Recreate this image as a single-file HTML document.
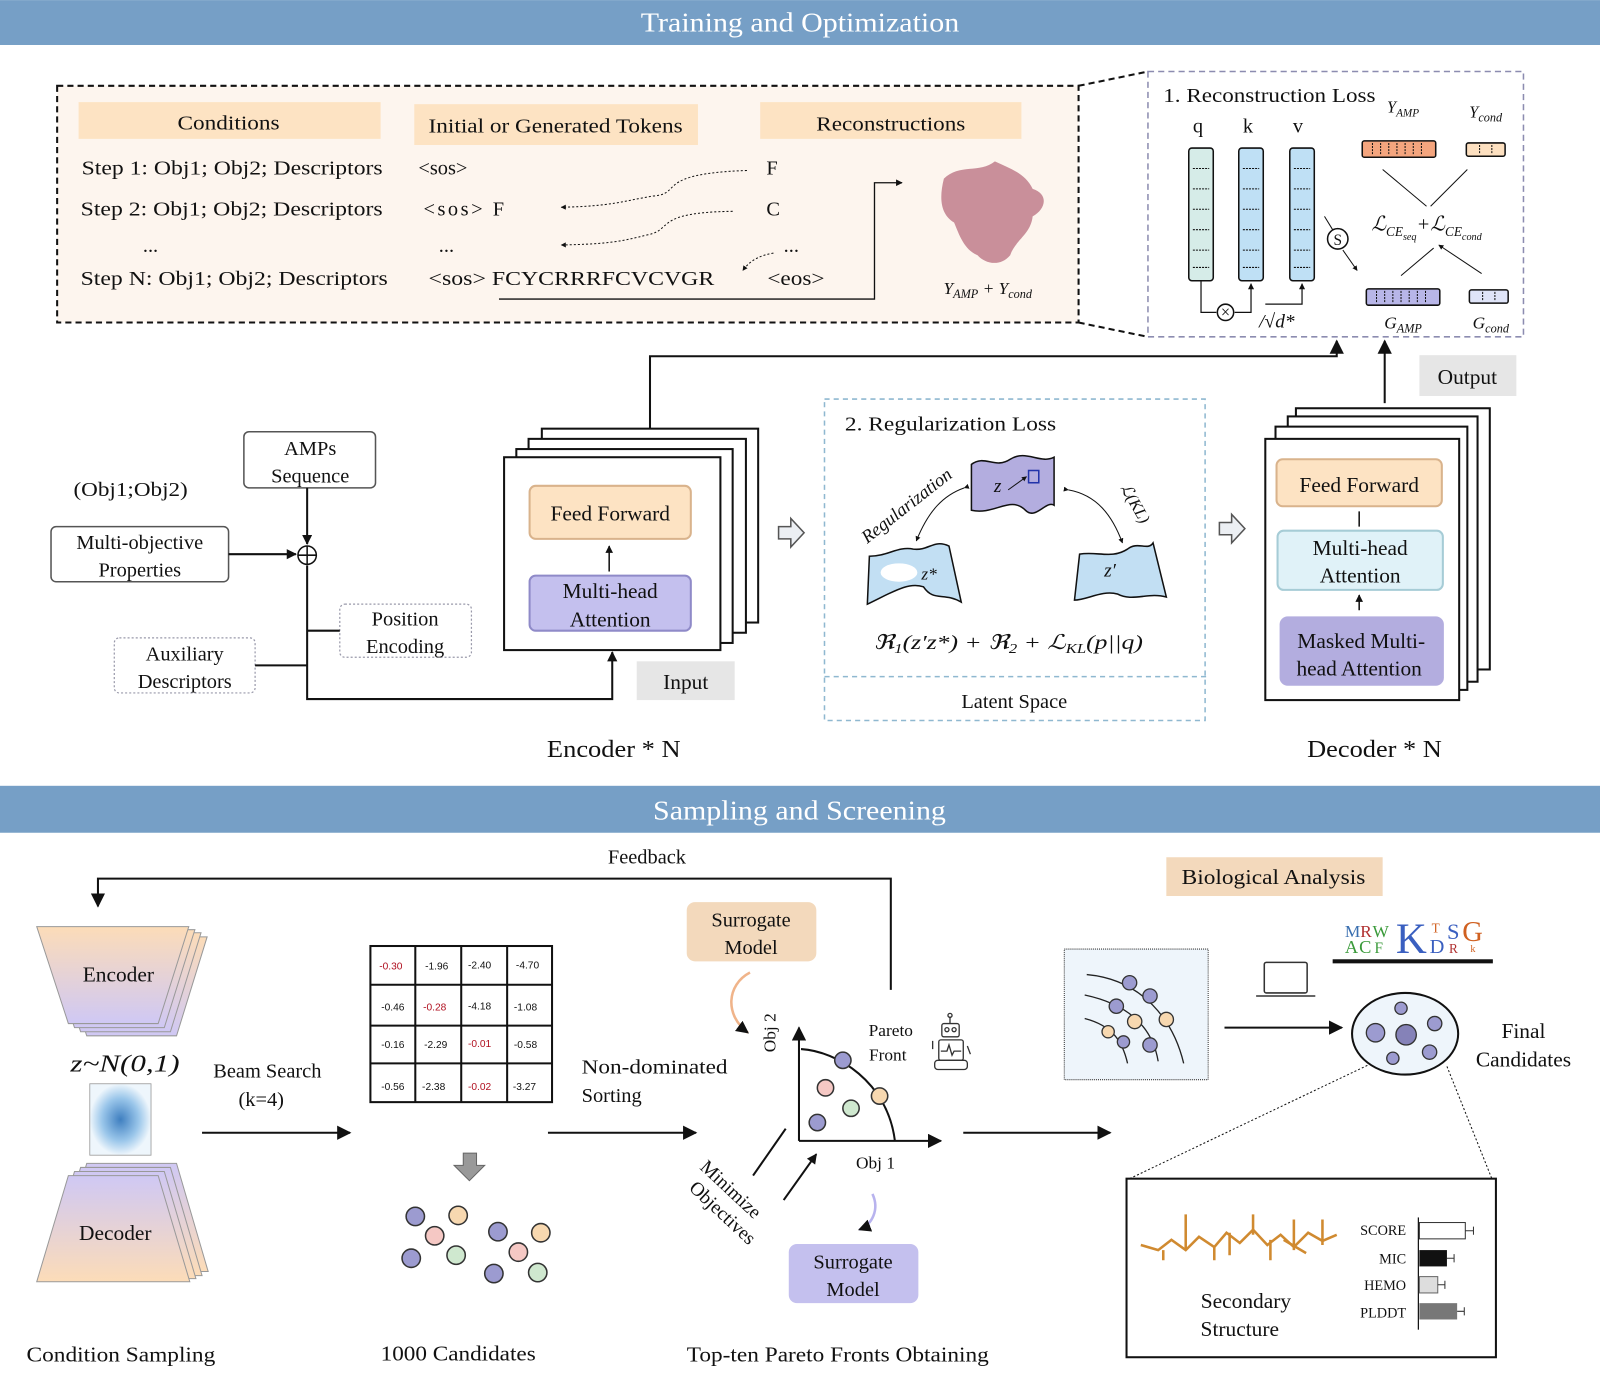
<!DOCTYPE html>
<html><head><meta charset="utf-8"><style>
html,body{margin:0;padding:0;background:#fff}
svg{display:block}
text{font-family:"Liberation Serif",serif;fill:#111}
</style></head><body>
<svg width="1600" height="1391" viewBox="0 0 1568 1363" xmlns="http://www.w3.org/2000/svg">
<defs>
<marker id="a" viewBox="0 0 10 10" refX="9" refY="5" markerWidth="7" markerHeight="7" orient="auto"><path d="M0,0L10,5L0,10z" fill="#111"/></marker>
<marker id="as" viewBox="0 0 10 10" refX="9" refY="5" markerWidth="5" markerHeight="5" orient="auto"><path d="M0,0L10,5L0,10z" fill="#111"/></marker>
<linearGradient id="enc" x1="0" y1="0" x2="0" y2="1"><stop offset="0" stop-color="#fcdcb8"/><stop offset="1" stop-color="#cfc8f4"/></linearGradient>
<linearGradient id="dec" x1="0" y1="0" x2="0" y2="1"><stop offset="0" stop-color="#cfc8f4"/><stop offset="1" stop-color="#fcdcb8"/></linearGradient>
<radialGradient id="gs" cx="0.5" cy="0.5" r="0.5"><stop offset="0" stop-color="#3f7fc0"/><stop offset="0.6" stop-color="#9ac6ea"/><stop offset="1" stop-color="#eef6fc"/></radialGradient>
</defs>

<rect x="0" y="0" width="1568" height="44" fill="#769fc6"/>
<text x="628" y="31" font-size="27" textLength="312" lengthAdjust="spacingAndGlyphs" style="fill:#fff">Training and Optimization</text>
<rect x="0" y="770" width="1568" height="46" fill="#769fc6"/>
<text x="640" y="803" font-size="27" textLength="287" lengthAdjust="spacingAndGlyphs" style="fill:#fff">Sampling and Screening</text>

<rect x="56" y="84" width="1001" height="232" fill="#fdf5ee" stroke="#111" stroke-width="2" stroke-dasharray="6,4"/>
<rect x="77" y="100" width="296" height="36" fill="#fde3c3"/>
<rect x="406" y="102" width="278" height="40" fill="#fde3c3"/>
<rect x="745" y="100" width="256" height="36" fill="#fde3c3"/>
<g font-size="20">
<text x="174" y="127" textLength="100" lengthAdjust="spacingAndGlyphs">Conditions</text>
<text x="420" y="130" textLength="249" lengthAdjust="spacingAndGlyphs">Initial or Generated Tokens</text>
<text x="800" y="128" textLength="146" lengthAdjust="spacingAndGlyphs">Reconstructions</text>
<text x="80" y="171" textLength="295" lengthAdjust="spacingAndGlyphs">Step 1:  Obj1; Obj2; Descriptors</text>
<text x="79" y="211" textLength="296" lengthAdjust="spacingAndGlyphs">Step 2:  Obj1; Obj2; Descriptors</text>
<text x="140" y="247">...</text>
<text x="79" y="279" textLength="301" lengthAdjust="spacingAndGlyphs">Step N:  Obj1; Obj2; Descriptors</text>
<text x="410" y="171">&lt;sos&gt;</text>
<text x="415" y="211" textLength="79" lengthAdjust="spacing">&lt;sos&gt;  F</text>
<text x="430" y="247">...</text>
<text x="420" y="279" textLength="280" lengthAdjust="spacingAndGlyphs">&lt;sos&gt;  FCYCRRRFCVCVGR</text>
<text x="751" y="171">F</text>
<text x="751" y="211">C</text>
<text x="768" y="247">...</text>
<text x="752" y="279" textLength="56" lengthAdjust="spacingAndGlyphs">&lt;eos&gt;</text>
</g>
<g fill="none" stroke="#111" stroke-width="1" stroke-dasharray="2,2">
<path d="M732,167 C640,170 670,190 640,192 C610,197 600,202 550,203" marker-end="url(#as)"/>
<path d="M718,207 C640,208 660,225 635,230 C610,236 600,239 550,240" marker-end="url(#as)"/>
<path d="M758,248 C745,250 735,255 728,265" marker-end="url(#as)"/>
</g>
<path d="M489,293 H857 V179 H884" fill="none" stroke="#111" stroke-width="1.3" marker-end="url(#as)"/>
<g fill="#c98f9a">
<path d="M925,175 C940,160 960,170 975,158 C990,165 1005,170 1012,185 C1028,190 1025,205 1012,212 C1010,230 995,235 990,250 C980,262 965,258 958,250 C945,245 940,230 935,218 C922,210 920,195 925,175 Z"/>
</g>
<text x="968" y="288" font-size="17" text-anchor="middle" font-style="italic">Y<tspan font-size="12" dy="4">AMP</tspan><tspan dy="-4"> + Y</tspan><tspan font-size="12" dy="4">cond</tspan></text>

<path d="M1057,84 L1125,70 M1057,316 L1125,330" stroke="#111" stroke-width="2" stroke-dasharray="6,4"/>
<rect x="1125" y="70" width="368" height="260" fill="#fff" stroke="#8c8cb0" stroke-width="1.5" stroke-dasharray="6,4"/>
<text x="1140" y="100" font-size="20" textLength="208" lengthAdjust="spacingAndGlyphs">1. Reconstruction Loss</text>
<g font-size="20" text-anchor="middle"><text x="1174" y="130">q</text><text x="1223" y="130">k</text><text x="1272" y="130">v</text></g>
<rect x="1165" y="145" width="24" height="130" rx="3" fill="#d6ece8" stroke="#111" stroke-width="1.5"/>
<rect x="1214" y="145" width="24" height="130" rx="3" fill="#bfe0f5" stroke="#111" stroke-width="1.5"/>
<rect x="1264" y="145" width="24" height="130" rx="3" fill="#bfe0f5" stroke="#111" stroke-width="1.5"/>
<g stroke="#111" stroke-dasharray="2,1" stroke-width="1">
<path d="M1169,165h16M1169,185h16M1169,205h16M1169,225h16M1169,245h16M1169,262h16"/>
<path d="M1218,165h16M1218,185h16M1218,205h16M1218,225h16M1218,245h16M1218,262h16"/>
<path d="M1268,165h16M1268,185h16M1268,205h16M1268,225h16M1268,245h16M1268,262h16"/>
</g>
<path d="M1177,275 V306 H1192 M1210,306 H1226 V278" fill="none" stroke="#111" stroke-width="1.2" marker-end="url(#as)"/>
<circle cx="1201" cy="306" r="8" fill="#fff" stroke="#111" stroke-width="1.5"/>
<text x="1201" y="311" font-size="16" text-anchor="middle">×</text>
<path d="M1240,298 H1276 V278" fill="none" stroke="#111" stroke-width="1.2" marker-end="url(#as)"/>
<text x="1234" y="321" font-size="19" font-style="italic">/√d*</text>
<circle cx="1311" cy="234" r="10" fill="#fff" stroke="#111" stroke-width="1.5"/>
<text x="1311" y="240" font-size="15" text-anchor="middle">S</text>
<path d="M1298,212 L1306,225 M1316,245 L1330,265" stroke="#111" stroke-width="1" marker-end="url(#as)"/>
<text x="1375" y="110" font-size="16" font-style="italic" text-anchor="middle">Y<tspan font-size="11" dy="4">AMP</tspan></text>
<text x="1456" y="115" font-size="16" font-style="italic" text-anchor="middle">Y<tspan font-size="12" dy="4">cond</tspan></text>
<rect x="1335" y="138" width="72" height="16" rx="2" fill="#f4a57e" stroke="#111" stroke-width="1.5"/>
<rect x="1437" y="140" width="38" height="13" rx="2" fill="#fde0c0" stroke="#111" stroke-width="1.5"/>
<rect x="1339" y="283" width="72" height="16" rx="2" fill="#b8b6e8" stroke="#111" stroke-width="1.5"/>
<rect x="1440" y="284" width="38" height="13" rx="2" fill="#dfe4f8" stroke="#111" stroke-width="1.5"/>
<g stroke="#111" stroke-width="1" stroke-dasharray="2,1">
<path d="M1345,140v12M1353,140v12M1361,140v12M1369,140v12M1377,140v12M1385,140v12M1393,140v12"/>
<path d="M1349,285v12M1357,285v12M1365,285v12M1373,285v12M1381,285v12M1389,285v12M1397,285v12"/>
<path d="M1450,142v9M1462,142v9M1453,286v9M1465,286v9"/>
</g>
<path d="M1355,166 L1398,202 M1438,166 L1402,202 M1373,270 L1405,243 M1452,268 L1410,240" stroke="#111" stroke-width="1" marker-end="url(#as)"/>
<text x="1398" y="226" font-size="20" font-style="italic" text-anchor="middle">ℒ<tspan font-size="13" dy="5">CE</tspan><tspan font-size="10" dy="4">seq</tspan><tspan dy="-9">+ℒ</tspan><tspan font-size="13" dy="5">CE</tspan><tspan font-size="10" dy="4">cond</tspan></text>
<text x="1375" y="322" font-size="17" font-style="italic" text-anchor="middle">G<tspan font-size="12" dy="4">AMP</tspan></text>
<text x="1461" y="322" font-size="17" font-style="italic" text-anchor="middle">G<tspan font-size="12" dy="4">cond</tspan></text>

<path d="M637,420 V349 H1310 V334" fill="none" stroke="#111" stroke-width="2" marker-end="url(#a)"/>
<path d="M1357,395 V334" fill="none" stroke="#111" stroke-width="2" marker-end="url(#a)"/>
<rect x="1391" y="348" width="95" height="40" fill="#e6e6e6"/>
<text x="1438" y="376" font-size="21" text-anchor="middle">Output</text>

<g fill="#fff" stroke="#111" stroke-width="2">
<rect x="531" y="420" width="212" height="190"/>
<rect x="518" y="430" width="213" height="190"/>
<rect x="506" y="440" width="212" height="190"/>
<rect x="494" y="448" width="212" height="189"/>
</g>
<rect x="519" y="476" width="158" height="52" rx="6" fill="#fde3c3" stroke="#d9b38c" stroke-width="2"/>
<text x="598" y="510" font-size="21" text-anchor="middle">Feed Forward</text>
<rect x="519" y="564" width="158" height="54" rx="6" fill="#c4c0ee" stroke="#8f8ac8" stroke-width="2"/>
<text x="598" y="586" font-size="21" text-anchor="middle">Multi-head</text>
<text x="598" y="614" font-size="21" text-anchor="middle">Attention</text>
<path d="M597,560 V535" stroke="#111" stroke-width="1.5" marker-end="url(#as)"/>
<rect x="624" y="648" width="96" height="38" fill="#e6e6e6"/>
<text x="672" y="675" font-size="21" text-anchor="middle">Input</text>
<text x="536" y="742" font-size="24" textLength="131" lengthAdjust="spacingAndGlyphs">Encoder * N</text>

<rect x="239" y="423" width="129" height="55" rx="5" fill="#fff" stroke="#555" stroke-width="1.5"/>
<text x="304" y="446" font-size="20" text-anchor="middle">AMPs</text>
<text x="304" y="473" font-size="20" text-anchor="middle">Sequence</text>
<text x="72" y="486" font-size="20" textLength="112" lengthAdjust="spacingAndGlyphs">(Obj1;Obj2)</text>
<rect x="50" y="516" width="174" height="54" rx="5" fill="#fff" stroke="#555" stroke-width="1.5"/>
<text x="137" y="538" font-size="20" text-anchor="middle">Multi-objective</text>
<text x="137" y="565" font-size="20" text-anchor="middle">Properties</text>
<rect x="333" y="592" width="129" height="52" rx="5" fill="#fff" stroke="#99a" stroke-width="1.2" stroke-dasharray="2,2"/>
<text x="397" y="613" font-size="20" text-anchor="middle">Position</text>
<text x="397" y="640" font-size="20" text-anchor="middle">Encoding</text>
<rect x="112" y="625" width="138" height="54" rx="5" fill="#fff" stroke="#99a" stroke-width="1.2" stroke-dasharray="2,2"/>
<text x="181" y="647" font-size="20" text-anchor="middle">Auxiliary</text>
<text x="181" y="674" font-size="20" text-anchor="middle">Descriptors</text>
<g fill="none" stroke="#111" stroke-width="2">
<path d="M301,478 V533" marker-end="url(#as)"/>
<path d="M224,543 H290" marker-end="url(#as)"/>
<path d="M301,554 V685 H600 V639" marker-end="url(#as)"/>
<path d="M250,652 H301 M301,618 H333"/>
</g>
<circle cx="301" cy="544" r="9" fill="#fff" stroke="#111" stroke-width="1.5"/>
<path d="M292,544h18M301,535v18" stroke="#111" stroke-width="1.5"/>

<path d="M763,516 h12 v-8 l13,14 l-13,14 v-8 h-12z" fill="#eceff3" stroke="#555" stroke-width="1.5"/>
<path d="M1195,512 h12 v-8 l13,14 l-13,14 v-8 h-12z" fill="#eceff3" stroke="#555" stroke-width="1.5"/>

<rect x="808" y="391" width="373" height="315" fill="#fff" stroke="#8fb8d0" stroke-width="1.5" stroke-dasharray="5,4"/>
<path d="M808,663 H1184" stroke="#8fb8d0" stroke-width="1.5" stroke-dasharray="5,4"/>
<text x="828" y="422" font-size="20" textLength="207" lengthAdjust="spacingAndGlyphs">2. Regularization Loss</text>
<path d="M952,455 C965,445 975,460 990,450 C1005,440 1020,455 1033,448 L1033,495 C1025,490 1015,510 1005,500 C990,485 975,505 952,500 Z" fill="#b3addf" stroke="#111" stroke-width="1.5"/>
<text x="974" y="482" font-size="19" font-style="italic">z</text>
<path d="M988,480 L1006,467" stroke="#111" stroke-width="1" marker-end="url(#as)"/>
<rect x="1008" y="461" width="10" height="12" fill="none" stroke="#2233aa" stroke-width="1.5"/>
<path d="M852,545 C870,545 880,535 895,538 C910,540 915,528 930,535 L942,590 C925,580 915,590 905,575 C890,570 875,580 850,592 Z" fill="#c2dff3" stroke="#111" stroke-width="1.5"/>
<ellipse cx="881" cy="561" rx="18" ry="9" fill="#fff"/>
<text x="903" y="568" font-size="17" font-style="italic">z*</text>
<path d="M1058,543 C1075,540 1090,548 1105,538 C1115,530 1125,540 1130,532 L1143,585 C1125,580 1110,590 1095,582 C1080,578 1065,588 1053,588 Z" fill="#c2dff3" stroke="#111" stroke-width="1.5"/>
<text x="1082" y="565" font-size="19" font-style="italic">z′</text>
<text x="892" y="500" font-size="18" font-style="italic" transform="rotate(-38 892 500)" text-anchor="middle">Regularization</text>
<text x="1108" y="496" font-size="16" font-style="italic" transform="rotate(60 1108 496)" text-anchor="middle">ℒ(KL)</text>
<path d="M945,478 C925,485 910,500 898,530" fill="none" stroke="#111" stroke-width="1" marker-start="url(#as)" marker-end="url(#as)"/>
<path d="M1047,480 C1075,485 1090,505 1100,532" fill="none" stroke="#111" stroke-width="1" marker-start="url(#as)" marker-end="url(#as)"/>
<text x="856" y="636" font-size="20" font-style="italic" textLength="264" lengthAdjust="spacingAndGlyphs">ℜ<tspan font-size="13" dy="4">1</tspan><tspan dy="-4">(z′z*) + ℜ</tspan><tspan font-size="13" dy="4">2</tspan><tspan dy="-4"> + ℒ</tspan><tspan font-size="13" dy="4">KL</tspan><tspan dy="-4">(p||q)</tspan></text>
<text x="994" y="694" font-size="20" text-anchor="middle">Latent Space</text>

<g fill="#fff" stroke="#111" stroke-width="2">
<rect x="1270" y="400" width="190" height="256"/>
<rect x="1262" y="408" width="186" height="260"/>
<rect x="1250" y="418" width="188" height="258"/>
<rect x="1240" y="430" width="190" height="256"/>
</g>
<rect x="1251" y="450" width="162" height="46" rx="6" fill="#fde3c3" stroke="#d9b38c" stroke-width="2"/>
<text x="1332" y="482" font-size="21" text-anchor="middle">Feed Forward</text>
<rect x="1252" y="520" width="162" height="58" rx="6" fill="#e0f2f8" stroke="#a6ccd6" stroke-width="2"/>
<text x="1333" y="544" font-size="21" text-anchor="middle">Multi-head</text>
<text x="1333" y="571" font-size="21" text-anchor="middle">Attention</text>
<rect x="1254" y="604" width="161" height="68" rx="8" fill="#b3addf"/>
<text x="1334" y="635" font-size="21" text-anchor="middle">Masked Multi-</text>
<text x="1332" y="662" font-size="21" text-anchor="middle">head Attention</text>
<path d="M1332,516 V501 M1332,598 V583" stroke="#111" stroke-width="1.5" marker-end="url(#as)"/>
<text x="1281" y="742" font-size="24" textLength="132" lengthAdjust="spacingAndGlyphs">Decoder * N</text>

<text x="634" y="846" font-size="20" text-anchor="middle">Feedback</text>
<path d="M873,970 V861 H96 V888" fill="none" stroke="#111" stroke-width="2" marker-end="url(#a)"/>

<g stroke="#999" stroke-width="1">
<path d="M54,918 H203 L173,1015 H85Z" fill="url(#enc)"/>
<path d="M48,914 H197 L167,1011 H79Z" fill="url(#enc)"/>
<path d="M42,911 H191 L161,1007 H73Z" fill="url(#enc)"/>
<path d="M36,908 H185 L155,1003 H67Z" fill="url(#enc)"/>
<path d="M85,1140 H173 L204,1246 H54Z" fill="url(#dec)"/>
<path d="M79,1144 H167 L198,1250 H48Z" fill="url(#dec)"/>
<path d="M73,1148 H161 L192,1253 H42Z" fill="url(#dec)"/>
<path d="M67,1152 H155 L186,1256 H36Z" fill="url(#dec)"/>
</g>
<text x="116" y="962" font-size="21" text-anchor="middle">Encoder</text>
<text x="113" y="1215" font-size="21" text-anchor="middle">Decoder</text>
<text x="69" y="1050" font-size="24" font-style="italic" textLength="107" lengthAdjust="spacingAndGlyphs">z~N(0,1)</text>
<rect x="88" y="1062" width="60" height="70" fill="url(#gs)" stroke="#999" stroke-width="0.8"/>
<text x="262" y="1056" font-size="20" text-anchor="middle">Beam Search</text>
<text x="256" y="1084" font-size="20" text-anchor="middle">(k=4)</text>
<path d="M198,1110 H343" stroke="#111" stroke-width="2" marker-end="url(#a)"/>

<g stroke="#111" stroke-width="2" fill="none">
<rect x="363" y="927" width="178" height="153"/>
<path d="M407,927V1080M452,927V1080M497,927V1080M363,965H541M363,1005H541M363,1042H541"/>
</g>
<g font-size="10" text-anchor="middle">
<text x="383" y="950" style="fill:#b01020;font-family:'Liberation Sans'">-0.30</text><text x="428" y="950" style="font-family:'Liberation Sans'">-1.96</text><text x="470" y="949" style="font-family:'Liberation Sans'">-2.40</text><text x="517" y="949" style="font-family:'Liberation Sans'">-4.70</text>
<text x="385" y="990" style="font-family:'Liberation Sans'">-0.46</text><text x="426" y="990" style="fill:#b01020;font-family:'Liberation Sans'">-0.28</text><text x="470" y="989" style="font-family:'Liberation Sans'">-4.18</text><text x="515" y="990" style="font-family:'Liberation Sans'">-1.08</text>
<text x="385" y="1027" style="font-family:'Liberation Sans'">-0.16</text><text x="427" y="1027" style="font-family:'Liberation Sans'">-2.29</text><text x="470" y="1026" style="fill:#b01020;font-family:'Liberation Sans'">-0.01</text><text x="515" y="1027" style="font-family:'Liberation Sans'">-0.58</text>
<text x="385" y="1068" style="font-family:'Liberation Sans'">-0.56</text><text x="425" y="1068" style="font-family:'Liberation Sans'">-2.38</text><text x="470" y="1068" style="fill:#b01020;font-family:'Liberation Sans'">-0.02</text><text x="514" y="1068" style="font-family:'Liberation Sans'">-3.27</text>
</g>
<path d="M454,1130 h13 v12 h8 l-15,15 l-15,-15 h9z" fill="#999" stroke="#666"/>
<g stroke="#333" stroke-width="1.5">
<circle cx="407" cy="1192" r="9" fill="#9c9bd0"/><circle cx="449" cy="1191" r="9" fill="#f7d8b0"/>
<circle cx="426" cy="1211" r="9" fill="#f5c8c4"/><circle cx="488" cy="1207" r="9" fill="#9c9bd0"/>
<circle cx="530" cy="1208" r="9" fill="#f7d8b0"/><circle cx="508" cy="1227" r="9" fill="#f5c8c4"/>
<circle cx="403" cy="1233" r="9" fill="#9c9bd0"/><circle cx="447" cy="1230" r="9" fill="#cfe8cf"/>
<circle cx="484" cy="1248" r="9" fill="#9c9bd0"/><circle cx="527" cy="1247" r="9" fill="#cfe8cf"/>
</g>
<text x="570" y="1052" font-size="20" textLength="143" lengthAdjust="spacingAndGlyphs">Non-dominated</text>
<text x="570" y="1080" font-size="20">Sorting</text>
<path d="M537,1110 H682" stroke="#111" stroke-width="2" marker-end="url(#a)"/>

<rect x="673" y="884" width="127" height="58" rx="8" fill="#f3d9bc"/>
<text x="736" y="908" font-size="20" text-anchor="middle">Surrogate</text>
<text x="736" y="935" font-size="20" text-anchor="middle">Model</text>
<rect x="773" y="1219" width="127" height="58" rx="8" fill="#c4c0ee"/>
<text x="836" y="1243" font-size="20" text-anchor="middle">Surrogate</text>
<text x="836" y="1270" font-size="20" text-anchor="middle">Model</text>
<path d="M735,953 C712,965 710,995 733,1012" fill="none" stroke="#f0b48a" stroke-width="2.5" marker-end="url(#as)"/>
<path d="M855,1170 C862,1185 855,1200 842,1205" fill="none" stroke="#b8b3ee" stroke-width="2.5" marker-end="url(#as)"/>

<path d="M783,1118 V1007" stroke="#111" stroke-width="2" marker-end="url(#a)"/>
<path d="M783,1118 H922" stroke="#111" stroke-width="2" marker-end="url(#a)"/>
<path d="M785,1028 C820,1030 870,1060 877,1118" fill="none" stroke="#111" stroke-width="2"/>
<g stroke="#333" stroke-width="1.5">
<circle cx="826" cy="1039" r="8" fill="#9c9bd0"/><circle cx="862" cy="1074" r="8" fill="#f7d8b0"/>
<circle cx="809" cy="1066" r="8" fill="#f5c8c4"/><circle cx="834" cy="1086" r="8" fill="#cfe8cf"/>
<circle cx="801" cy="1100" r="8" fill="#9c9bd0"/>
</g>
<text x="760" y="1012" font-size="17" text-anchor="middle" transform="rotate(-90 760 1012)">Obj 2</text>
<text x="858" y="1145" font-size="17" text-anchor="middle">Obj 1</text>
<text x="873" y="1015" font-size="17" text-anchor="middle">Pareto</text>
<text x="870" y="1039" font-size="17" text-anchor="middle">Front</text>
<g fill="none" stroke="#333" stroke-width="1.3">
<rect x="923" y="1003" width="17" height="13" rx="2"/><circle cx="928" cy="1009" r="2"/><circle cx="935" cy="1009" r="2"/>
<path d="M931,1003 V996"/><circle cx="931" cy="995" r="2"/>
<rect x="920" y="1019" width="24" height="20" rx="2"/><path d="M922,1030 h6 l2,-6 l3,10 l2,-4 h7"/>
<rect x="916" y="1039" width="32" height="9" rx="3"/><path d="M914,1020 v8 M948,1025 l3,8"/>
</g>
<text x="712" y="1170" font-size="19" text-anchor="middle" transform="rotate(43 712 1170)">Minimize</text>
<text x="704" y="1193" font-size="19" text-anchor="middle" transform="rotate(43 704 1193)">Objectives</text>
<path d="M738,1152 L770,1106 M768,1176 L800,1131" stroke="#111" stroke-width="2" marker-end="url(#as)"/>
<path d="M944,1110 H1088" stroke="#111" stroke-width="2" marker-end="url(#a)"/>

<rect x="1143" y="840" width="212" height="38" fill="#f3d9bc"/>
<text x="1158" y="866" font-size="21" textLength="180" lengthAdjust="spacingAndGlyphs">Biological Analysis</text>
<rect x="1043" y="930" width="141" height="128" fill="#eef5fb" stroke="#333" stroke-width="1" stroke-dasharray="1,1"/>
<g fill="none" stroke="#222" stroke-width="1.3">
<path d="M1065,955 C1120,960 1150,1000 1160,1042"/><path d="M1063,975 C1110,985 1130,1010 1135,1040"/><path d="M1063,998 C1090,1005 1100,1020 1105,1042"/>
</g>
<g stroke="#333" stroke-width="1.3">
<circle cx="1107" cy="963" r="7" fill="#9c9bd0"/><circle cx="1127" cy="976" r="7" fill="#9c9bd0"/><circle cx="1094" cy="986" r="7" fill="#9c9bd0"/>
<circle cx="1143" cy="999" r="7" fill="#f7d8b0"/><circle cx="1112" cy="1001" r="7" fill="#f7d8b0"/><circle cx="1086" cy="1011" r="6" fill="#f7d8b0"/>
<circle cx="1127" cy="1024" r="7" fill="#9c9bd0"/><circle cx="1101" cy="1021" r="6" fill="#9c9bd0"/>
</g>
<g fill="none" stroke="#333" stroke-width="1.5"><rect x="1239" y="943" width="42" height="30" rx="2"/><path d="M1231,976 H1289"/></g>
<g>
<text x="1318" y="918" font-size="17" style="fill:#3a6fb0">M</text><text x="1333" y="918" font-size="17" style="fill:#b03030">R</text><text x="1345" y="918" font-size="17" style="fill:#3a9a3a">W</text>
<text x="1318" y="934" font-size="18" style="fill:#3a9a3a">A</text><text x="1332" y="934" font-size="18" style="fill:#3a9a3a">C</text><text x="1347" y="934" font-size="15" style="fill:#3a9a3a">F</text>
<text x="1368" y="934" font-size="42" style="fill:#3a5fc0">K</text>
<text x="1403" y="914" font-size="13" style="fill:#d06020">T</text><text x="1401" y="934" font-size="20" style="fill:#3a5fc0">D</text>
<text x="1418" y="920" font-size="22" style="fill:#3a5fc0">S</text><text x="1420" y="934" font-size="13" style="fill:#b03030">R</text>
<text x="1433" y="922" font-size="28" style="fill:#d06020">G</text><text x="1441" y="933" font-size="10" style="fill:#d06020">k</text>
</g>
<rect x="1306" y="940" width="157" height="4" fill="#111"/>
<path d="M1200,1007 H1315" stroke="#111" stroke-width="2" marker-end="url(#a)"/>
<ellipse cx="1377" cy="1013" rx="52" ry="40" fill="#eef5fb" stroke="#111" stroke-width="2"/>
<g stroke="#333" stroke-width="1.3">
<circle cx="1373" cy="988" r="6" fill="#9c9bd0"/><circle cx="1348" cy="1012" r="9" fill="#9c9bd0"/><circle cx="1378" cy="1014" r="10" fill="#8582b8"/>
<circle cx="1406" cy="1003" r="7" fill="#9c9bd0"/><circle cx="1401" cy="1031" r="7" fill="#9c9bd0"/><circle cx="1365" cy="1037" r="6" fill="#9c9bd0"/>
</g>
<text x="1493" y="1017" font-size="21" text-anchor="middle">Final</text>
<text x="1493" y="1045" font-size="21" text-anchor="middle">Candidates</text>
<path d="M1340,1044 L1107,1155 M1418,1045 L1462,1155" stroke="#111" stroke-width="1" stroke-dasharray="2,2"/>
<rect x="1104" y="1155" width="362" height="175" fill="#fff" stroke="#111" stroke-width="2"/>
<g fill="none" stroke="#d08a30" stroke-width="2.5">
<path d="M1118,1220 L1135,1225 L1148,1215 L1162,1225 L1175,1212 L1190,1222 L1202,1208 L1215,1218 L1228,1205 L1242,1220 L1255,1210 L1268,1222 L1282,1208 L1296,1216 L1310,1210"/>
<path d="M1162,1190 V1225 M1190,1222 V1235 M1228,1190 V1210 M1245,1215 V1235 M1268,1195 V1225 M1296,1195 V1220 M1140,1225 V1235 M1205,1208 V1230 M1258,1215 L1280,1228"/>
</g>
<text x="1221" y="1282" font-size="21" text-anchor="middle">Secondary</text>
<text x="1215" y="1309" font-size="21" text-anchor="middle">Structure</text>
<g font-size="14" text-anchor="end"><text x="1378" y="1210">SCORE</text><text x="1378" y="1238">MIC</text><text x="1378" y="1264">HEMO</text><text x="1378" y="1291">PLDDT</text></g>
<path d="M1390,1193 V1303" stroke="#111" stroke-width="1.2"/>
<rect x="1391" y="1198" width="45" height="16" fill="#fff" stroke="#333"/>
<rect x="1391" y="1225" width="27" height="16" fill="#111"/>
<rect x="1391" y="1251" width="18" height="16" fill="#ddd" stroke="#666"/>
<rect x="1391" y="1277" width="37" height="16" fill="#777"/>
<path d="M1436,1206h8M1444,1202v8M1418,1233h7M1425,1229v8M1409,1259h7M1416,1255v8M1428,1285h7M1435,1281v8" stroke="#333"/>

<text x="26" y="1334" font-size="21" textLength="185" lengthAdjust="spacingAndGlyphs">Condition Sampling</text>
<text x="373" y="1333" font-size="21" textLength="152" lengthAdjust="spacingAndGlyphs">1000 Candidates</text>
<text x="673" y="1334" font-size="21" textLength="296" lengthAdjust="spacingAndGlyphs">Top-ten Pareto Fronts Obtaining</text>
</svg>
</body></html>
